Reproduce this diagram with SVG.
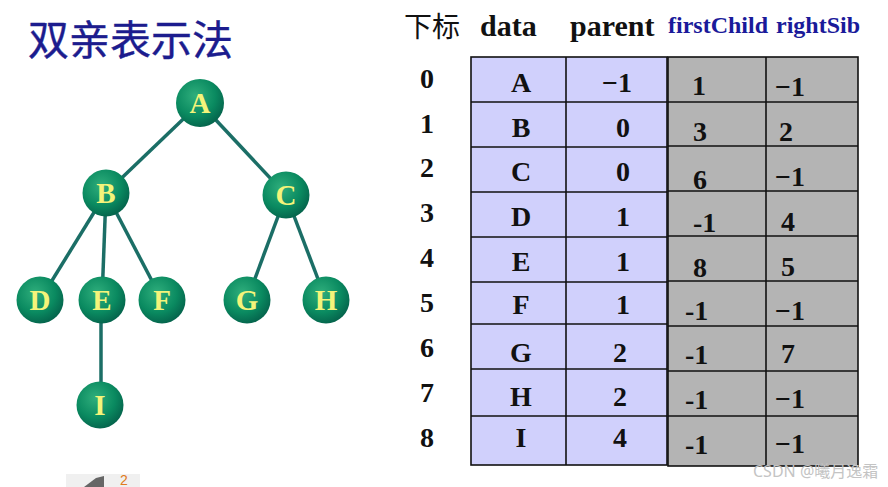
<svg xmlns="http://www.w3.org/2000/svg" width="888" height="487" viewBox="0 0 888 487">
<defs>
<radialGradient id="ball" cx="0.4" cy="0.35" r="0.7">
<stop offset="0" stop-color="#2fae7c"/>
<stop offset="0.6" stop-color="#0a8a60"/>
<stop offset="1" stop-color="#04604a"/>
</radialGradient>
</defs>
<style>
.edge{stroke:#1b6e66;stroke-width:3.5;fill:none}
.node circle{fill:url(#ball)}
.node text{font-family:"Liberation Serif",serif;font-weight:bold;font-size:29px;fill:#f4f47a;text-anchor:middle}
.cell{font-family:"Liberation Serif",serif;font-weight:bold;font-size:28px;fill:#111}
.mid{text-anchor:middle}
.hdr{font-family:"Liberation Serif",serif;font-weight:bold;font-size:30px;fill:#111}
.hdr2{font-family:"Liberation Serif",serif;font-weight:bold;font-size:24px;fill:#1a1a9a}
.grid{stroke:#111;stroke-width:1.6;fill:none}
</style>
<rect width="888" height="487" fill="#ffffff"/>
<text x="28" y="55" font-family="'Noto Sans CJK SC',sans-serif" font-size="41" fill="#1c1c8e" stroke="#1c1c8e" stroke-width="0.4">双亲表示法</text>

<g id="connectors">
<line class="edge" x1="200" y1="103" x2="106" y2="193"/>
<line class="edge" x1="200" y1="103" x2="286" y2="195"/>
<line class="edge" x1="106" y1="193" x2="40" y2="300"/>
<line class="edge" x1="106" y1="193" x2="102" y2="300"/>
<line class="edge" x1="106" y1="193" x2="162" y2="300"/>
<line class="edge" x1="286" y1="195" x2="247" y2="300"/>
<line class="edge" x1="286" y1="195" x2="326" y2="300"/>
<line class="edge" x1="101" y1="300" x2="101" y2="405"/>
</g>

<g id="node-A" class="node"><circle cx="200" cy="103" r="24"/><text x="200" y="113">A</text></g>
<g id="node-B" class="node"><circle cx="106" cy="193" r="23.5"/><text x="106" y="203">B</text></g>
<g id="node-C" class="node"><circle cx="286" cy="195" r="23.5"/><text x="286" y="205">C</text></g>
<g id="node-D" class="node"><circle cx="40" cy="300" r="23.5"/><text x="40" y="310">D</text></g>
<g id="node-E" class="node"><circle cx="102" cy="300" r="23.5"/><text x="102" y="310">E</text></g>
<g id="node-F" class="node"><circle cx="162" cy="300" r="23.5"/><text x="162" y="310">F</text></g>
<g id="node-G" class="node"><circle cx="247" cy="300" r="23.5"/><text x="247" y="310">G</text></g>
<g id="node-H" class="node"><circle cx="326" cy="300" r="23.5"/><text x="326" y="310">H</text></g>
<g id="node-I" class="node"><circle cx="100" cy="405" r="23.5"/><text x="100" y="415">I</text></g>

<g id="header">
<text x="404" y="37" font-family="'Noto Sans CJK SC',sans-serif" font-size="28" fill="#111">下标</text>
<text class="hdr" x="480" y="36">data</text>
<text class="hdr" x="570" y="36">parent</text>
<text class="hdr2" x="668" y="33">firstChild</text>
<text class="hdr2" x="776" y="33">rightSib</text>
</g>

<g id="index" class="cell mid">
<text x="427" y="88">0</text>
<text x="427" y="133">1</text>
<text x="427" y="177">2</text>
<text x="427" y="222">3</text>
<text x="427" y="267">4</text>
<text x="427" y="312">5</text>
<text x="427" y="357">6</text>
<text x="427" y="402">7</text>
<text x="427" y="447">8</text>
</g>

<g id="table-left">
<rect x="471" y="57" width="196" height="408" fill="#d0d0fc"/>
<rect class="grid" x="471" y="57" width="196" height="408"/>
<line class="grid" x1="566" y1="57" x2="566" y2="465"/>
<line class="grid" x1="471" y1="102" x2="667" y2="102"/>
<line class="grid" x1="471" y1="147" x2="667" y2="147"/>
<line class="grid" x1="471" y1="192" x2="667" y2="192"/>
<line class="grid" x1="471" y1="237" x2="667" y2="237"/>
<line class="grid" x1="471" y1="282" x2="667" y2="282"/>
<line class="grid" x1="471" y1="324" x2="667" y2="324"/>
<line class="grid" x1="471" y1="369" x2="667" y2="369"/>
<line class="grid" x1="471" y1="416" x2="667" y2="416"/>
</g>

<g id="table-right">
<rect x="668" y="57" width="190" height="409" fill="#b4b4b4"/>
<rect class="grid" x="668" y="57" width="190" height="409"/>
<line class="grid" x1="766" y1="57" x2="766" y2="466"/>
<line class="grid" x1="668" y1="102" x2="858" y2="102"/>
<line class="grid" x1="668" y1="146" x2="858" y2="146"/>
<line class="grid" x1="668" y1="191" x2="858" y2="191"/>
<line class="grid" x1="668" y1="236" x2="858" y2="236"/>
<line class="grid" x1="668" y1="281" x2="858" y2="281"/>
<line class="grid" x1="668" y1="326" x2="858" y2="326"/>
<line class="grid" x1="668" y1="371" x2="858" y2="371"/>
<line class="grid" x1="668" y1="416" x2="858" y2="416"/>
</g>

<g id="col-data" class="cell mid">
<text x="521" y="92">A</text>
<text x="521" y="137">B</text>
<text x="521" y="181">C</text>
<text x="521" y="226">D</text>
<text x="521" y="271">E</text>
<text x="521" y="314">F</text>
<text x="521" y="362">G</text>
<text x="521" y="406">H</text>
<text x="521" y="447">I</text>
</g>

<g id="col-parent" class="cell mid">
<text x="617" y="92">−1</text>
<text x="623" y="137">0</text>
<text x="623" y="181">0</text>
<text x="623" y="226">1</text>
<text x="623" y="271">1</text>
<text x="623" y="314">1</text>
<text x="620" y="362">2</text>
<text x="620" y="406">2</text>
<text x="620" y="447">4</text>
</g>

<g id="col-firstChild" class="cell">
<text x="692" y="95">1</text>
<text x="693" y="141">3</text>
<text x="693" y="189">6</text>
<text x="693" y="232">-1</text>
<text x="693" y="277">8</text>
<text x="685" y="320">-1</text>
<text x="685" y="364">-1</text>
<text x="685" y="409">-1</text>
<text x="685" y="454">-1</text>
</g>

<g id="col-rightSib" class="cell">
<text x="775" y="96">−1</text>
<text x="779" y="141">2</text>
<text x="775" y="186">−1</text>
<text x="781" y="231">4</text>
<text x="781" y="276">5</text>
<text x="775" y="320">−1</text>
<text x="781" y="363">7</text>
<text x="775" y="408">−1</text>
<text x="775" y="453">−1</text>
</g>

<rect x="66" y="474" width="74" height="13" fill="#f0f0f0"/>
<path d="M84 487 L96 478 L104 476 L104 487 Z" fill="#666"/>
<text x="120" y="485" font-family="'Liberation Sans',sans-serif" font-size="14" fill="#e07a20">2</text>

<text x="753" y="477" font-family="'Noto Sans','Noto Sans CJK SC',sans-serif" font-size="16" fill="#c4c4c4">CSDN @曦月逸霜</text>
</svg>
